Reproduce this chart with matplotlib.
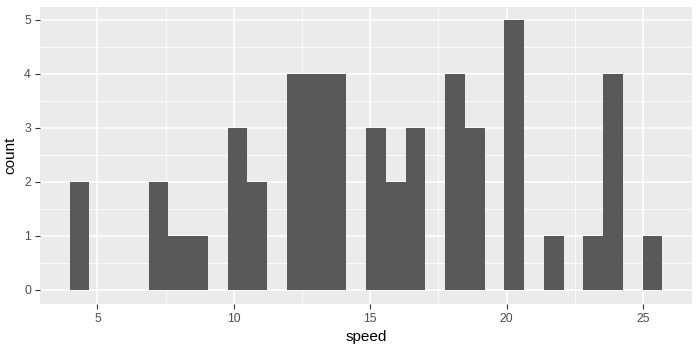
import numpy as np
import matplotlib
matplotlib.use("Agg")
from matplotlib import pyplot as plt
from matplotlib.ticker import FixedLocator

plt.rcParams["font.family"] = ["Liberation Sans", "DejaVu Sans"]

speed = [4, 4, 7, 7, 8, 9, 10, 10, 10, 11, 11, 12, 12, 12, 12,
         13, 13, 13, 13, 14, 14, 14, 14, 15, 15, 15, 16, 16,
         17, 17, 17, 18, 18, 18, 18, 19, 19, 19,
         20, 20, 20, 20, 20, 22, 23, 24, 24, 24, 24, 25]
x_ticks = [5, 10, 15, 20, 25]
y_ticks = [0, 1, 2, 3, 4, 5]

# ggplot-style 30 bins
nbins = 30
lo, hi = min(speed), max(speed)
width = (hi - lo) / (nbins - 1)
boundary = width / 2
origin = boundary + np.floor((lo - boundary) / width) * width
edges = origin + width * np.arange(nbins + 1)

fig = plt.figure(figsize=(7, 3.5), dpi=100)
ax = fig.add_axes([40 / 700, 46.5 / 350, 652 / 700, 297 / 350])
ax.set_facecolor("#EBEBEB")

ax.hist(speed, bins=edges, color="#595959", zorder=3)

span = edges[-1] - edges[0]
ax.set_xlim(edges[0] - span * 0.05, edges[-1] + span * 0.05)
ax.set_ylim(-0.25, 5.25)

ax.xaxis.set_major_locator(FixedLocator(x_ticks))
ax.xaxis.set_minor_locator(FixedLocator([7.5, 12.5, 17.5, 22.5]))
ax.yaxis.set_major_locator(FixedLocator(y_ticks))
ax.yaxis.set_minor_locator(FixedLocator([0.5, 1.5, 2.5, 3.5, 4.5]))

ax.grid(which="major", color="white", linewidth=1.1, zorder=0)
ax.grid(which="minor", color="white", linewidth=0.55, zorder=0)
ax.set_axisbelow(True)

for s in ax.spines.values():
    s.set_visible(False)

ax.tick_params(which="major", length=3.5, width=0.8, color="#333333",
               labelcolor="#4D4D4D", labelsize=8.8, pad=3)
ax.tick_params(which="minor", length=0)

ax.set_xlabel("speed", fontsize=11, color="black", labelpad=4)
ax.set_ylabel("count", fontsize=11, color="black", labelpad=5)

fig.savefig("out.png", dpi=100, facecolor="white")
